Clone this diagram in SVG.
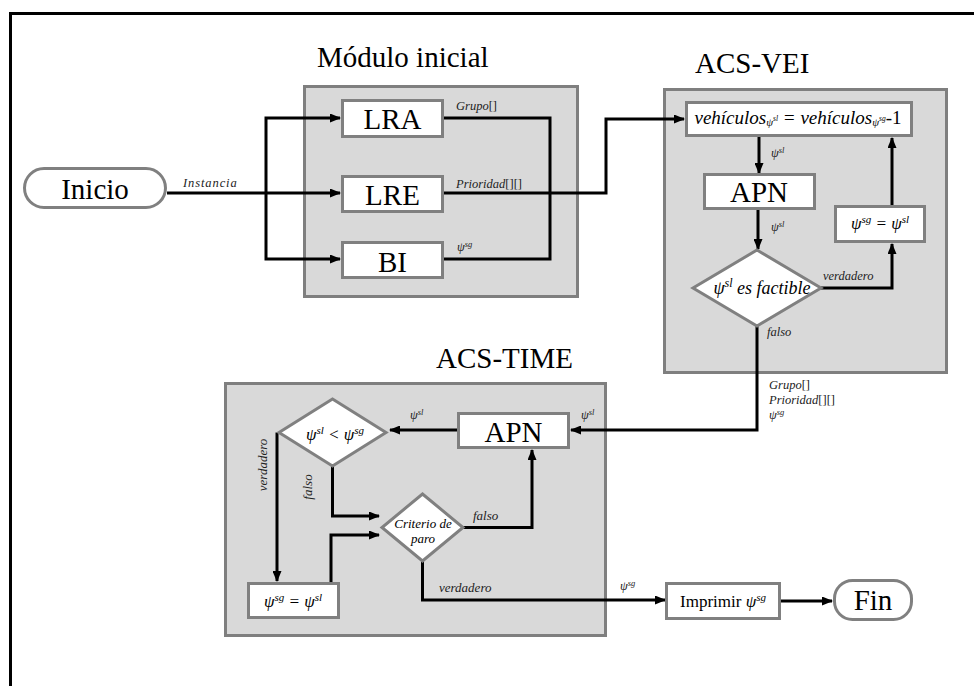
<svg xmlns="http://www.w3.org/2000/svg" width="974" height="686" viewBox="0 0 974 686" font-family="'Liberation Serif', 'DejaVu Serif', serif">
  <style>
    text { font-family: "Liberation Serif", "DejaVu Serif", serif; fill: #000; }
    .title { font-size: 29px; }
    .big { font-size: 29px; text-anchor: middle; }
    .cluster { fill: #d9d9d9; stroke: #7f7f7f; stroke-width: 3; }
    .node { fill: #fff; stroke: #808080; stroke-width: 3; }
    .conn { fill: none; stroke: #000; stroke-width: 3; stroke-linejoin: miter; }
    .arr { marker-end: url(#head); }
    .lbl { font-size: 12.5px; font-style: italic; fill: #222; }
    .lbl2 { font-size: 13px; font-style: italic; fill: #222; }
    .math { font-style: italic; text-anchor: middle; }
    .up { font-style: normal; }
  </style>
  <defs>
    <marker id="head" viewBox="0 0 11 9" refX="10" refY="4.5" markerWidth="11" markerHeight="9" markerUnits="userSpaceOnUse" orient="auto">
      <path d="M0,0 L11,4.5 L0,9 z" fill="#000"/>
    </marker>
  </defs>

  <rect width="974" height="686" fill="#fff"/>

  <!-- outer frame: left and top rules only -->
  <path d="M10.5,686 V13.5 H974" fill="none" stroke="#000" stroke-width="3"/>

  <!-- clusters -->
  <g id="modulo-inicial">
    <rect class="cluster" x="304.5" y="86.5" width="273" height="210"/>
    <text class="title" x="317" y="67">Módulo inicial</text>
  </g>
  <g id="acs-vei">
    <rect class="cluster" x="664.5" y="89.5" width="282" height="283"/>
    <text class="title" x="695" y="73">ACS-VEI</text>
  </g>
  <g id="acs-time">
    <rect class="cluster" x="225.5" y="383.5" width="380" height="252"/>
    <text class="title" x="436" y="368">ACS-TIME</text>
  </g>

  <!-- connectors -->
  <g id="connectors">
    <path class="conn arr" d="M167,193 H340"/>
    <path class="conn arr" d="M266,193 V118 H340"/>
    <path class="conn arr" d="M266,193 V259 H340"/>
    <path class="conn" d="M444,118 H550 V259 H444"/>
    <path class="conn arr" d="M444,193 H606 V119 H684"/>
    <path class="conn arr" d="M759,137 V173"/>
    <path class="conn arr" d="M758,210 V249"/>
    <path class="conn arr" d="M821,288 H892 V244"/>
    <path class="conn arr" d="M892,205 V138"/>
    <path class="conn arr" d="M757,326 V430 H571"/>
    <path class="conn arr" d="M457,430 H390"/>
    <path class="conn arr" d="M277,432.5 V581"/>
    <path class="conn arr" d="M332.5,466 V516 H379"/>
    <path class="conn arr" d="M331,582 V535 H379"/>
    <path class="conn arr" d="M463,527.5 H532 V450"/>
    <path class="conn arr" d="M422.5,561 V600 H665"/>
    <path class="conn arr" d="M781,601 H832"/>

    <!-- connector labels -->
    <text class="lbl" x="183" y="187" letter-spacing="0.9">Instancia</text>
    <text class="lbl" x="456" y="110">Grupo<tspan class="up">[]</tspan></text>
    <text class="lbl" x="456" y="188">Prioridad<tspan class="up">[][]</tspan></text>
    <text class="lbl" x="457" y="251">ψ<tspan font-size="8.5" dy="-4">sg</tspan></text>

    <text class="lbl" x="771" y="157">ψ<tspan font-size="8.5" dy="-4">sl</tspan></text>
    <text class="lbl" x="771" y="231">ψ<tspan font-size="8.5" dy="-4">sl</tspan></text>
    <text class="lbl" x="823" y="280">verdadero</text>
    <text class="lbl" x="767" y="336">falso</text>
    <text class="lbl" x="769" y="389">Grupo<tspan class="up">[]</tspan></text>
    <text class="lbl" x="769" y="404">Prioridad<tspan class="up">[][]</tspan></text>
    <text class="lbl" x="769" y="419">ψ<tspan font-size="8.5" dy="-4">sg</tspan></text>

    <text class="lbl" x="581" y="419">ψ<tspan font-size="8.5" dy="-4">sl</tspan></text>
    <text class="lbl" x="410" y="419">ψ<tspan font-size="8.5" dy="-4">sl</tspan></text>
    <text class="lbl2" text-anchor="middle" transform="translate(267,465) rotate(-90)">verdadero</text>
    <text class="lbl2" text-anchor="middle" transform="translate(312,487) rotate(-90)">falso</text>
    <text class="lbl2" x="473" y="520">falso</text>
    <text class="lbl2" x="439" y="592">verdadero</text>
    <text class="lbl" x="620" y="590">ψ<tspan font-size="8.5" dy="-4">sg</tspan></text>
  </g>

  <!-- nodes -->
  <g id="inicio">
    <rect class="node" x="24.5" y="168.5" width="141" height="39" rx="19.5"/>
    <text class="big" x="95" y="199" font-size="28">Inicio</text>
  </g>
  <g id="lra">
    <rect class="node" x="342.5" y="100.5" width="100" height="36"/>
    <text class="big" x="392.5" y="129">LRA</text>
  </g>
  <g id="lre">
    <rect class="node" x="342.5" y="176.5" width="100" height="35"/>
    <text class="big" x="392.5" y="205">LRE</text>
  </g>
  <g id="bi">
    <rect class="node" x="342.5" y="242.5" width="100" height="35"/>
    <text class="big" x="392.5" y="272">BI</text>
  </g>

  <g id="vei-update">
    <rect class="node" x="686.5" y="102.5" width="225" height="33"/>
    <text class="math" x="798" y="124" font-size="19">vehículos<tspan font-size="11" dy="2">ψ</tspan><tspan font-size="7.5" dy="-5">sl</tspan><tspan dy="3"> = vehículos</tspan><tspan font-size="11" dy="2">ψ</tspan><tspan font-size="7.5" dy="-5">sg</tspan><tspan class="up" dy="3">-1</tspan></text>
  </g>
  <g id="vei-apn">
    <rect class="node" x="704.5" y="174.5" width="110" height="34"/>
    <text class="big" x="759" y="202">APN</text>
  </g>
  <g id="vei-factible">
    <polygon class="node" points="757,250 821,288 757,326 693,288"/>
    <text class="math" x="762" y="294" font-size="18">ψ<tspan font-size="12" dy="-7">sl</tspan><tspan dy="7"> es factible</tspan></text>
  </g>
  <g id="vei-best">
    <rect class="node" x="835.5" y="206.5" width="89" height="35"/>
    <text class="math" x="880" y="229" font-size="17">ψ<tspan font-size="11" dy="-6">sg</tspan><tspan dy="6"> = ψ</tspan><tspan font-size="11" dy="-6">sl</tspan></text>
  </g>

  <g id="time-apn">
    <rect class="node" x="458.5" y="413.5" width="110" height="34"/>
    <text class="big" x="513.5" y="442">APN</text>
  </g>
  <g id="time-compare">
    <polygon class="node" points="332.5,399 386,432.5 332.5,466 279,432.5"/>
    <text class="math" x="335" y="440" font-size="17">ψ<tspan font-size="11" dy="-6">sl</tspan><tspan dy="6"> &lt; ψ</tspan><tspan font-size="11" dy="-6">sg</tspan></text>
  </g>
  <g id="time-criterio">
    <polygon class="node" points="422.5,494 463,527.5 422.5,561 382,527.5"/>
    <text class="math" x="423" y="528" font-size="13">Criterio de</text>
    <text class="math" x="423" y="543" font-size="13">paro</text>
  </g>
  <g id="time-best">
    <rect class="node" x="248.5" y="583.5" width="90" height="34"/>
    <text class="math" x="293" y="607" font-size="17">ψ<tspan font-size="11" dy="-6">sg</tspan><tspan dy="6"> = ψ</tspan><tspan font-size="11" dy="-6">sl</tspan></text>
  </g>

  <g id="imprimir">
    <rect class="node" x="666.5" y="583.5" width="113" height="35"/>
    <text x="723" y="607" font-size="17" text-anchor="middle">Imprimir <tspan font-style="italic">ψ</tspan><tspan font-style="italic" font-size="11" dy="-6">sg</tspan></text>
  </g>
  <g id="fin">
    <rect class="node" x="834.5" y="580.5" width="77" height="39" rx="18"/>
    <text class="big" x="873" y="610">Fin</text>
  </g>
</svg>
